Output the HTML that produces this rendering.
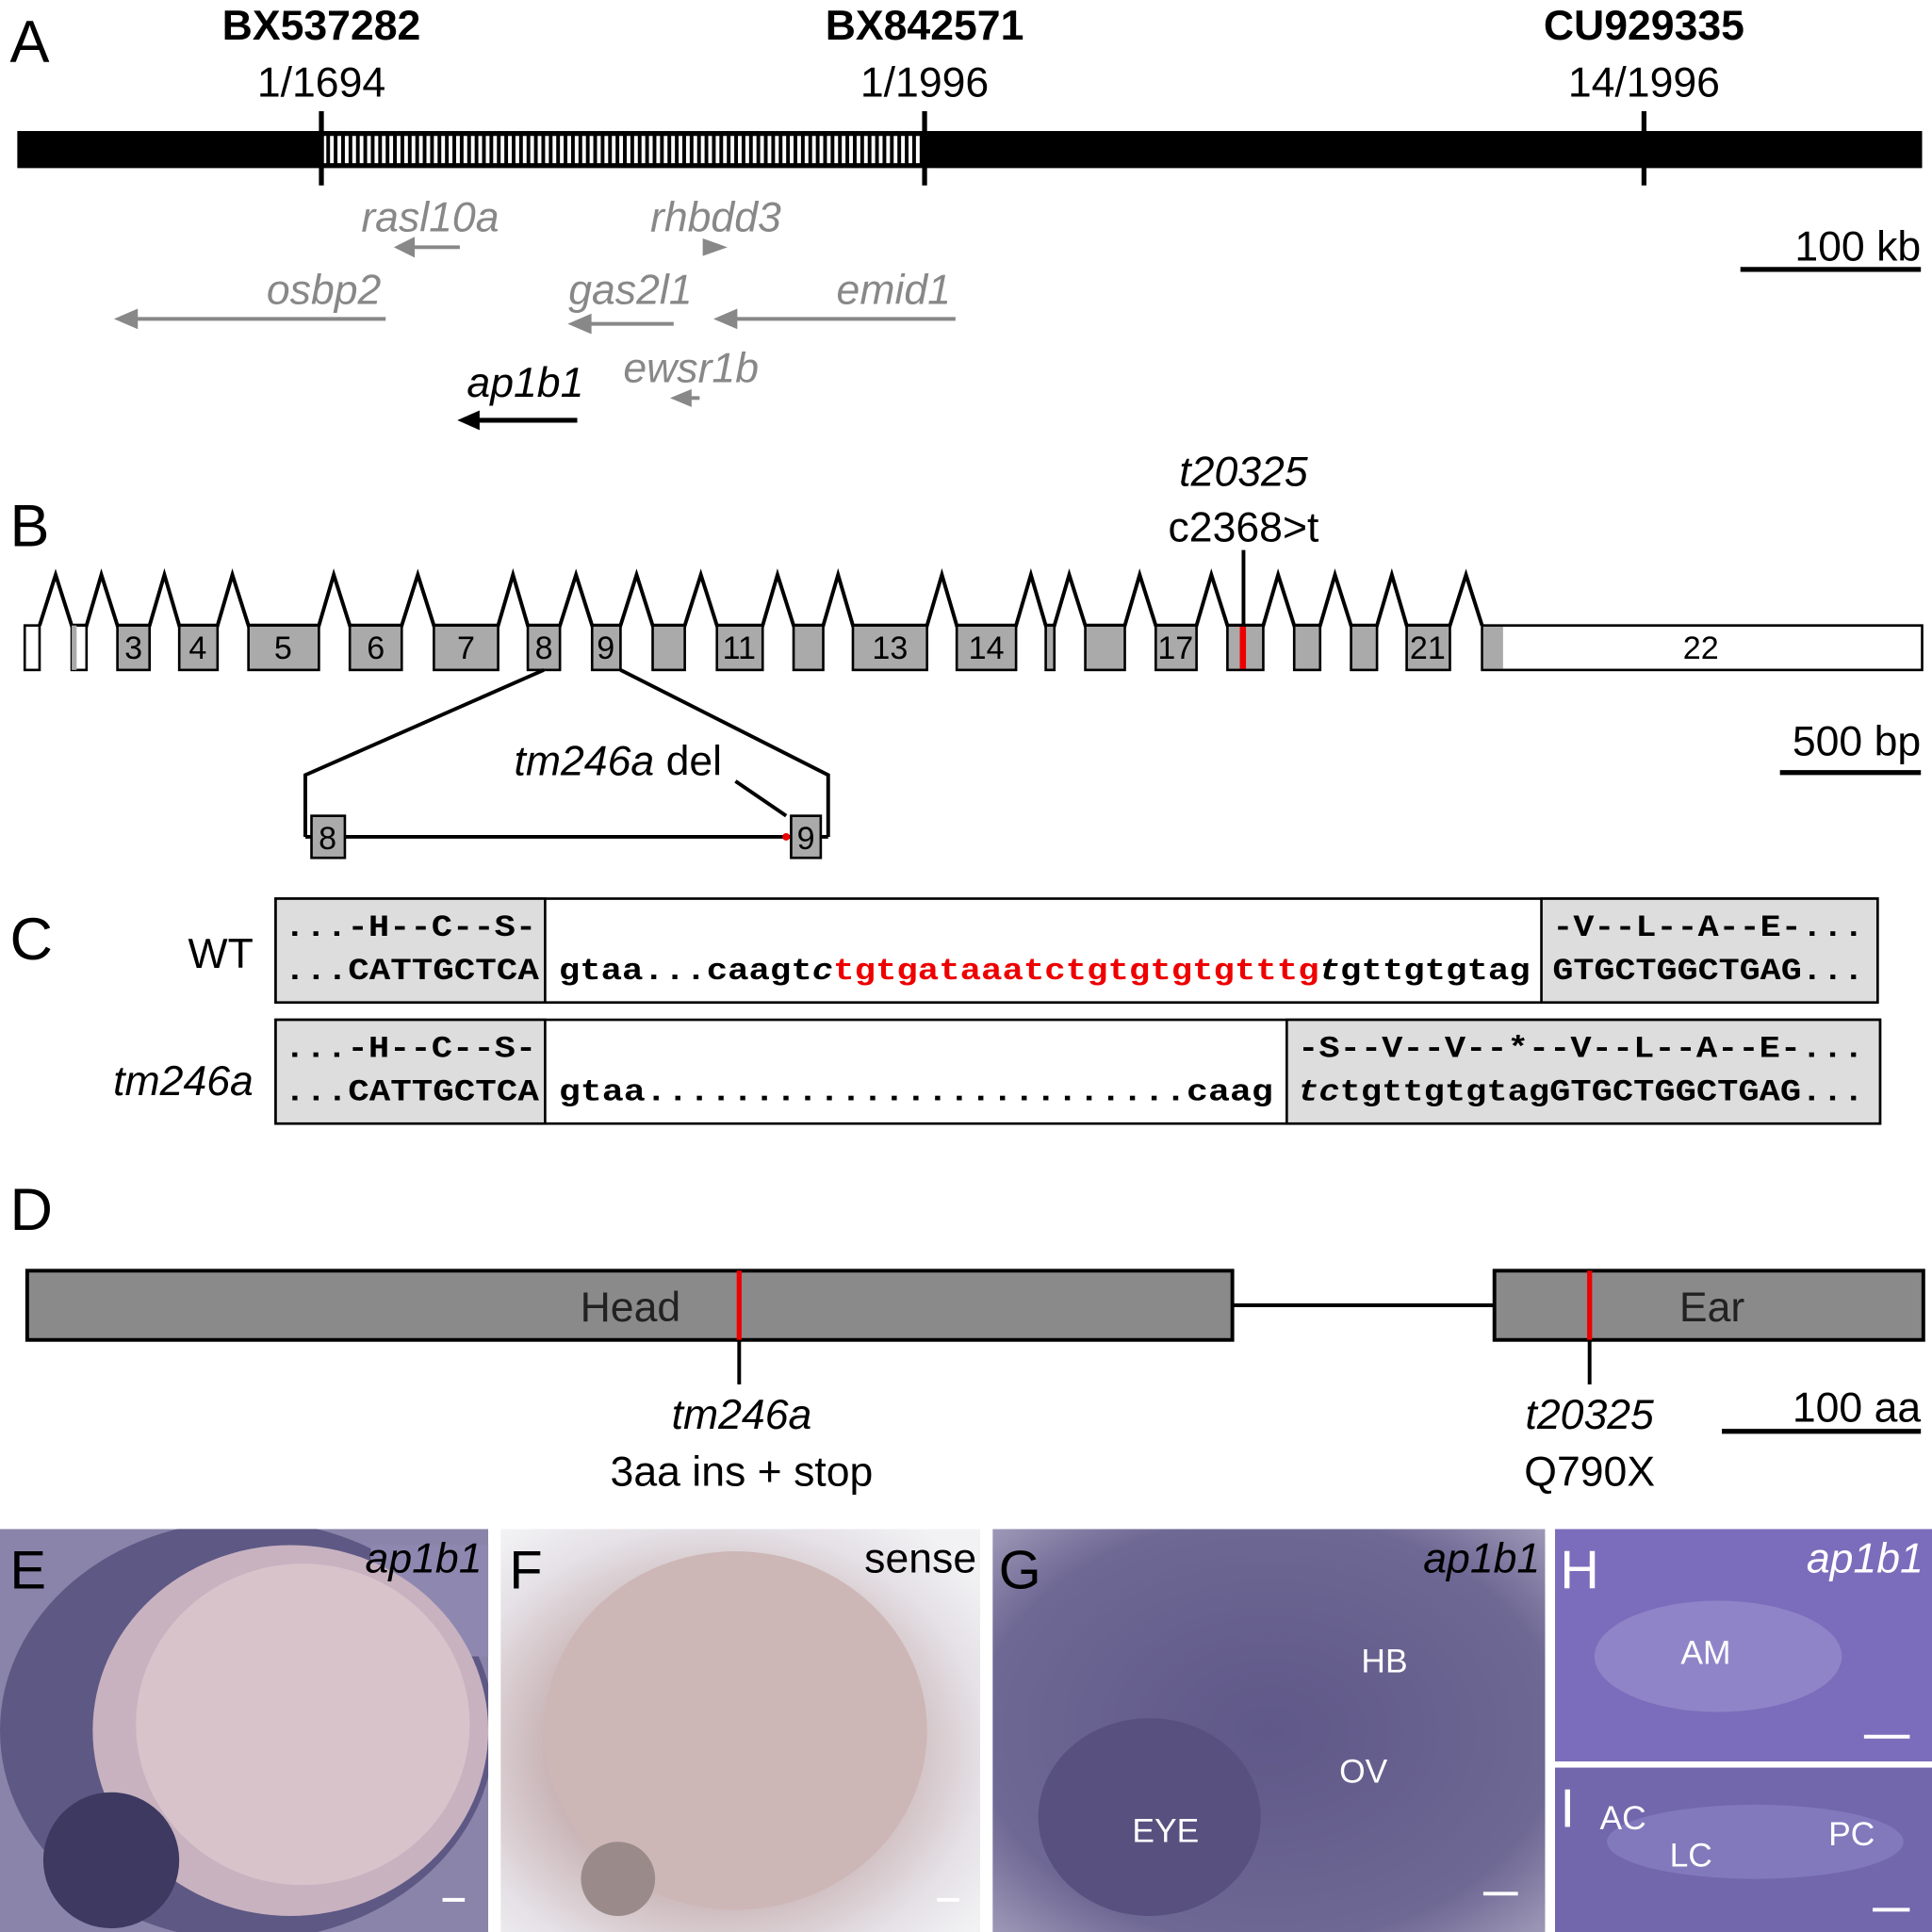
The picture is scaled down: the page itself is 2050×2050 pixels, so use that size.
<!DOCTYPE html>
<html><head><meta charset="utf-8"><style>html,body{margin:0;padding:0;background:#fff}svg{display:block}</style></head><body>
<svg width="2050" height="2050" viewBox="0 0 1563 1563" xmlns="http://www.w3.org/2000/svg" font-family="Liberation Sans, Arial, sans-serif">
<defs>
<pattern id="hatch" width="6" height="10" patternUnits="userSpaceOnUse"><rect width="6" height="10" fill="#fff"/><rect width="3" height="10" fill="#000"/></pattern>
<radialGradient id="gE" cx="0.45" cy="0.55" r="0.7"><stop offset="0" stop-color="#d9c2cc"/><stop offset="0.45" stop-color="#bfa6b6"/><stop offset="0.75" stop-color="#5f5a85"/><stop offset="1" stop-color="#8c85ad"/></radialGradient>
<radialGradient id="gF" cx="0.45" cy="0.55" r="0.7"><stop offset="0" stop-color="#d9c3c4"/><stop offset="0.5" stop-color="#c9b4b6"/><stop offset="0.8" stop-color="#e5e1e6"/><stop offset="1" stop-color="#f2f2f4"/></radialGradient>
<radialGradient id="gG" cx="0.5" cy="0.5" r="0.75"><stop offset="0" stop-color="#5f5888"/><stop offset="0.7" stop-color="#6e6894"/><stop offset="1" stop-color="#aaa4c0"/></radialGradient>
<clipPath id="cE"><rect x="0" y="1237" width="395" height="326"/></clipPath>
<clipPath id="cF"><rect x="405" y="1237" width="388" height="326"/></clipPath>
<clipPath id="cG"><rect x="803" y="1237" width="447" height="326"/></clipPath>
<clipPath id="cH"><rect x="1258" y="1237" width="305" height="188"/></clipPath>
<clipPath id="cI"><rect x="1258" y="1430" width="305" height="133"/></clipPath>
</defs>
<style>.l{font-size:34px}.b{font-weight:bold}.i{font-style:italic}.g{fill:#888}.m{font-family:"Liberation Mono",monospace;font-weight:bold;font-size:25px}</style>
<!-- A -->
<text x="8" y="50" font-size="48">A</text>
<text x="260" y="32" class="l b" text-anchor="middle">BX537282</text>
<text x="260" y="78" class="l" text-anchor="middle">1/1694</text>
<text x="748" y="32" class="l b" text-anchor="middle">BX842571</text>
<text x="748" y="78" class="l" text-anchor="middle">1/1996</text>
<text x="1330" y="32" class="l b" text-anchor="middle">CU929335</text>
<text x="1330" y="78" class="l" text-anchor="middle">14/1996</text>
<rect x="14" y="106" width="1541" height="30" fill="#000"/>
<rect x="262" y="110" width="485" height="22" fill="url(#hatch)"/>
<g stroke="#000" stroke-width="4"><line x1="260" y1="90" x2="260" y2="150"/><line x1="748" y1="90" x2="748" y2="150"/><line x1="1330" y1="90" x2="1330" y2="150"/></g>
<g class="l i g" fill="#888">
<text x="348" y="187" text-anchor="middle">rasl10a</text>
<text x="579" y="187" text-anchor="middle">rhbdd3</text>
<text x="262" y="246" text-anchor="middle">osbp2</text>
<text x="510" y="246" text-anchor="middle">gas2l1</text>
<text x="723" y="246" text-anchor="middle">emid1</text>
<text x="559" y="309" text-anchor="middle">ewsr1b</text>
</g>
<text x="425" y="321" class="l i" text-anchor="middle">ap1b1</text>
<g stroke="#888" stroke-width="3" fill="#888">
<line x1="372" y1="200" x2="330" y2="200"/><path d="M322 200 L334 194 L334 206Z"/>
<path d="M570 195 L584 200 L570 205Z"/>
<line x1="312" y1="258" x2="105" y2="258"/><path d="M96 258 L110 252 L110 264Z"/>
<line x1="545" y1="262" x2="472" y2="262"/><path d="M463 262 L477 256 L477 268Z"/>
<line x1="773" y1="258" x2="590" y2="258"/><path d="M581 258 L595 252 L595 264Z"/>
<line x1="566" y1="322" x2="555" y2="322"/><path d="M546 322 L558 317 L558 327Z"/>
</g>
<line x1="467" y1="340" x2="382" y2="340" stroke="#000" stroke-width="4"/><path d="M370 340 L388 332 L388 348Z"/>
<line x1="1408" y1="218" x2="1554" y2="218" stroke="#000" stroke-width="4"/>
<text x="1554" y="211" class="l" text-anchor="end">100 kb</text>
<!-- B -->
<text x="8" y="442" font-size="48">B</text>
<text x="1006" y="393" class="l i" text-anchor="middle">t20325</text>
<text x="1006" y="438" class="l" text-anchor="middle">c2368&gt;t</text>
<line x1="1006" y1="445" x2="1006" y2="508" stroke="#000" stroke-width="3"/>
<polyline fill="none" stroke="#000" stroke-width="3" points="32,506 45,465 58,506 70,506 82,465 95,506 121,506 133,465 145,506 176,506 188,465 201,506 258,506 270,465 283,506 325,506 338,465 351,506 403,506 415,465 427,506 453,506 466,465 479,506 502,506 515,465 528,506 554,506 567,465 580,506 617,506 629,465 642,506 666,506 678,465 690,506 750,506 762,465 774,506 822,506 834,465 846,506 853,506 865,465 878,506 910,506 922,465 935,506 968,506 980,465 993,506 1022,506 1034,465 1047,506 1068,506 1080,465 1093,506 1114,506 1126,465 1138,506 1173,506 1186,465 1199,506"/>
<g stroke="#000" stroke-width="2">
<rect x="20" y="506" width="12" height="36" fill="#fff"/>
<rect x="58" y="506" width="12" height="36" fill="#fff"/><rect x="58" y="506" width="4" height="36" fill="#aaa" stroke="none"/>
<rect x="95" y="506" width="26" height="36" fill="#aaa"/>
<rect x="145" y="506" width="31" height="36" fill="#aaa"/>
<rect x="201" y="506" width="57" height="36" fill="#aaa"/>
<rect x="283" y="506" width="42" height="36" fill="#aaa"/>
<rect x="351" y="506" width="52" height="36" fill="#aaa"/>
<rect x="427" y="506" width="26" height="36" fill="#aaa"/>
<rect x="479" y="506" width="23" height="36" fill="#aaa"/>
<rect x="528" y="506" width="26" height="36" fill="#aaa"/>
<rect x="580" y="506" width="37" height="36" fill="#aaa"/>
<rect x="642" y="506" width="24" height="36" fill="#aaa"/>
<rect x="690" y="506" width="60" height="36" fill="#aaa"/>
<rect x="774" y="506" width="48" height="36" fill="#aaa"/>
<rect x="846" y="506" width="7" height="36" fill="#aaa"/>
<rect x="878" y="506" width="32" height="36" fill="#aaa"/>
<rect x="935" y="506" width="33" height="36" fill="#aaa"/>
<rect x="993" y="506" width="29" height="36" fill="#aaa"/>
<rect x="1047" y="506" width="21" height="36" fill="#aaa"/>
<rect x="1093" y="506" width="21" height="36" fill="#aaa"/>
<rect x="1138" y="506" width="35" height="36" fill="#aaa"/>
<rect x="1199" y="506" width="356" height="36" fill="#fff"/>
</g>
<rect x="1200" y="507" width="16" height="34" fill="#aaa"/>
<rect x="1003" y="507" width="5" height="34" fill="#e00"/>
<g font-size="26" text-anchor="middle">
<text x="108" y="533">3</text><text x="160" y="533">4</text><text x="229" y="533">5</text><text x="304" y="533">6</text><text x="377" y="533">7</text><text x="440" y="533">8</text><text x="490" y="533">9</text><text x="598" y="533">11</text><text x="720" y="533">13</text><text x="798" y="533">14</text><text x="951" y="533">17</text><text x="1155" y="533">21</text><text x="1376" y="533">22</text>
</g>
<polyline fill="none" stroke="#000" stroke-width="3" points="440,542 247,627 247,677"/>
<polyline fill="none" stroke="#000" stroke-width="3" points="502,542 670,627 670,677"/>
<line x1="247" y1="677" x2="670" y2="677" stroke="#000" stroke-width="3"/>
<rect x="252" y="660" width="27" height="34" fill="#aaa" stroke="#000" stroke-width="2"/>
<rect x="640" y="660" width="24" height="34" fill="#aaa" stroke="#000" stroke-width="2"/>
<text x="265" y="687" font-size="26" text-anchor="middle">8</text><text x="652" y="687" font-size="26" text-anchor="middle">9</text>
<circle cx="636" cy="677" r="3" fill="#e00"/>
<line x1="595" y1="632" x2="636" y2="660" stroke="#000" stroke-width="3"/>
<text x="500" y="627" class="l" text-anchor="middle"><tspan font-style="italic">tm246a</tspan> del</text>
<line x1="1440" y1="625" x2="1554" y2="625" stroke="#000" stroke-width="4"/>
<text x="1554" y="611" class="l" text-anchor="end">500 bp</text>
<!-- C -->
<text x="8" y="776" font-size="48">C</text>
<text x="205" y="783" class="l" text-anchor="end">WT</text>
<text x="205" y="886" class="l i" text-anchor="end">tm246a</text>
<g stroke="#000" stroke-width="2">
<rect x="223" y="727" width="1296" height="84" fill="#fff"/>
<rect x="223" y="727" width="218" height="84" fill="#ddd"/>
<rect x="1247" y="727" width="272" height="84" fill="#ddd"/>
<rect x="223" y="825" width="1298" height="84" fill="#fff"/>
<rect x="223" y="825" width="218" height="84" fill="#ddd"/>
<rect x="1041" y="825" width="480" height="84" fill="#ddd"/>
</g>
<g class="m">
<text x="230" y="757" textLength="204" lengthAdjust="spacingAndGlyphs">...-H--C--S-</text>
<text x="230" y="792" textLength="206" lengthAdjust="spacingAndGlyphs">...CATTGCTCA</text>
<text x="452" y="792" textLength="786" lengthAdjust="spacingAndGlyphs">gtaa...caagt<tspan font-style="italic">c</tspan><tspan fill="#e00">tgtgataaatctgtgtgtgtttg</tspan><tspan font-style="italic">t</tspan>gttgtgtag</text>
<text x="1256" y="757" textLength="252" lengthAdjust="spacingAndGlyphs">-V--L--A--E-...</text>
<text x="1256" y="792" textLength="252" lengthAdjust="spacingAndGlyphs">GTGCTGGCTGAG...</text>
<text x="230" y="855" textLength="204" lengthAdjust="spacingAndGlyphs">...-H--C--S-</text>
<text x="230" y="890" textLength="206" lengthAdjust="spacingAndGlyphs">...CATTGCTCA</text>
<text x="452" y="890" textLength="578" lengthAdjust="spacingAndGlyphs">gtaa.........................caag</text>
<text x="1050" y="855" textLength="458" lengthAdjust="spacingAndGlyphs">-S--V--V--*--V--L--A--E-...</text>
<text x="1050" y="890" textLength="458" lengthAdjust="spacingAndGlyphs"><tspan font-style="italic">tc</tspan>tgttgtgtagGTGCTGGCTGAG...</text>
</g>
<!-- D -->
<text x="8" y="995" font-size="48">D</text>
<line x1="997" y1="1056" x2="1209" y2="1056" stroke="#000" stroke-width="3"/>
<rect x="22" y="1028" width="975" height="56" fill="#8a8a8a" stroke="#000" stroke-width="3"/>
<rect x="1209" y="1028" width="347" height="56" fill="#8a8a8a" stroke="#000" stroke-width="3"/>
<text x="510" y="1069" class="l" text-anchor="middle" fill="#222">Head</text>
<text x="1385" y="1069" class="l" text-anchor="middle" fill="#222">Ear</text>
<line x1="598" y1="1028" x2="598" y2="1084" stroke="#e00" stroke-width="4"/>
<line x1="1286" y1="1028" x2="1286" y2="1084" stroke="#e00" stroke-width="4"/>
<line x1="598" y1="1084" x2="598" y2="1120" stroke="#000" stroke-width="3"/>
<line x1="1286" y1="1084" x2="1286" y2="1120" stroke="#000" stroke-width="3"/>
<text x="600" y="1156" class="l i" text-anchor="middle">tm246a</text>
<text x="600" y="1202" class="l" text-anchor="middle">3aa ins + stop</text>
<text x="1286" y="1156" class="l i" text-anchor="middle">t20325</text>
<text x="1286" y="1202" class="l" text-anchor="middle">Q790X</text>
<line x1="1393" y1="1158" x2="1554" y2="1158" stroke="#000" stroke-width="4"/>
<text x="1554" y="1150" class="l" text-anchor="end">100 aa</text>
<!-- photos -->
<g clip-path="url(#cE)">
<rect x="0" y="1237" width="395" height="326" fill="#8a84aa"/>
<ellipse cx="200" cy="1400" rx="200" ry="170" fill="#5e5884"/>
<rect x="300" y="1250" width="100" height="90" fill="#8e88b0"/>
<ellipse cx="235" cy="1400" rx="160" ry="150" fill="#c8b2c0"/>
<ellipse cx="245" cy="1395" rx="135" ry="130" fill="#d8c3cb"/>
<ellipse cx="90" cy="1505" rx="55" ry="55" fill="#3d3960"/>
</g>
<g clip-path="url(#cF)">
<rect x="405" y="1237" width="388" height="326" fill="url(#gF)"/>
<ellipse cx="595" cy="1400" rx="155" ry="145" fill="#cdb6b6"/>
<ellipse cx="500" cy="1520" rx="30" ry="30" fill="#9a8a8a"/>
</g>
<g clip-path="url(#cG)">
<rect x="803" y="1237" width="447" height="326" fill="url(#gG)"/>
<ellipse cx="930" cy="1470" rx="90" ry="80" fill="#58507e"/>
</g>
<g clip-path="url(#cH)">
<rect x="1258" y="1237" width="305" height="188" fill="#7b6dbb"/>
<ellipse cx="1390" cy="1340" rx="100" ry="45" fill="#9084c8"/>
</g>
<g clip-path="url(#cI)">
<rect x="1258" y="1430" width="305" height="133" fill="#7266ac"/>
<ellipse cx="1420" cy="1490" rx="120" ry="30" fill="#8278bc"/>
</g>
<g font-size="44" fill="#000"><text x="8" y="1285">E</text><text x="412" y="1285">F</text></g>
<g font-size="44" fill="#000"><text x="808" y="1285">G</text></g>
<g font-size="44" fill="#fff"><text x="1262" y="1285">H</text><text x="1262" y="1478">I</text></g>
<text x="390" y="1272" class="l i" text-anchor="end">ap1b1</text>
<text x="790" y="1272" class="l" text-anchor="end">sense</text>
<text x="1246" y="1272" class="l i" text-anchor="end">ap1b1</text>
<text x="1556" y="1272" class="l i" text-anchor="end" fill="#fff">ap1b1</text>
<g font-size="27" fill="#fff" text-anchor="middle">
<text x="1120" y="1353">HB</text><text x="1103" y="1442">OV</text><text x="943" y="1490">EYE</text>
<text x="1380" y="1346">AM</text><text x="1313" y="1480">AC</text><text x="1368" y="1510">LC</text><text x="1498" y="1493">PC</text>
</g>
<g stroke="#fff" stroke-width="3">
<line x1="358" y1="1537" x2="376" y2="1537"/><line x1="758" y1="1537" x2="776" y2="1537"/><line x1="1200" y1="1532" x2="1228" y2="1532"/><line x1="1508" y1="1405" x2="1545" y2="1405"/><line x1="1515" y1="1545" x2="1545" y2="1545"/>
</g>
</svg>
</body></html>
